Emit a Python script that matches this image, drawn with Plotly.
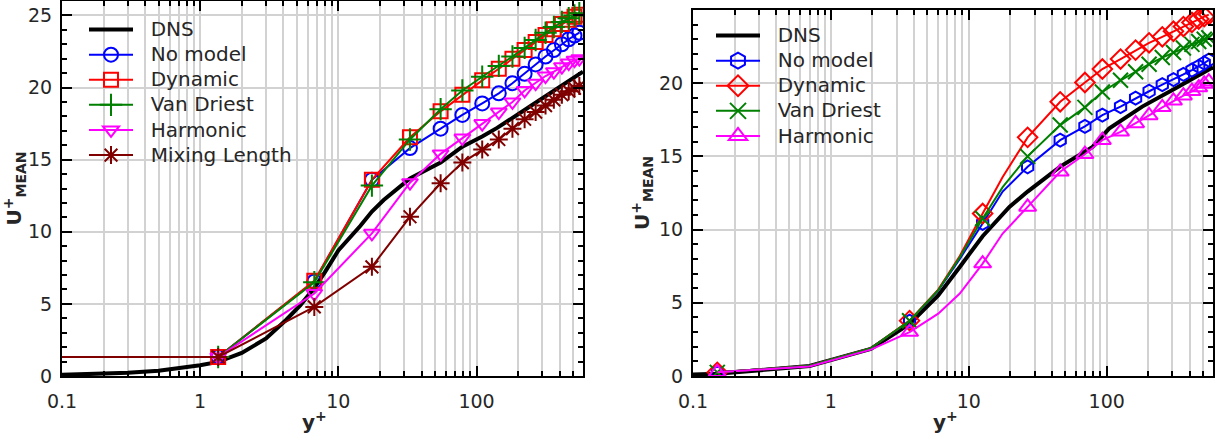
import plotly.graph_objects as go
import math

# ---------------- LEFT PANEL DATA ----------------
dns_left_y = [0.1, 0.2, 0.3, 0.5, 0.7, 1.0, 1.35, 2.0, 3.0, 4.2, 5.3, 6.7, 8.0, 10, 14.4, 17.5, 21.3, 33, 55, 79, 110, 141, 245, 427, 590]
dns_left_u = [0.08, 0.15, 0.22, 0.37, 0.52, 0.74, 0.98, 1.6, 2.6, 3.9, 4.9, 6.1, 7.2, 8.7, 10.4, 11.4, 12.2, 13.7, 14.8, 15.9, 16.6, 17.2, 18.7, 20.2, 21.1]

les_left_y = [1.35, 6.7, 17.5, 33, 55, 79, 110, 145, 182, 223, 268, 316, 363, 415, 465, 512, 555]
nomodel_left = [1.32, 6.55, 13.6, 15.8, 17.15, 18.1, 18.9, 19.6, 20.3, 20.95, 21.6, 22.15, 22.6, 23.0, 23.35, 23.6, 23.8]
dynamic_left = [1.32, 6.6, 13.6, 16.55, 18.35, 19.5, 20.5, 21.3, 22.0, 22.6, 23.15, 23.65, 24.05, 24.4, 24.7, 24.9, 25.05]
vandriest_left = [1.32, 6.5, 13.2, 16.4, 18.5, 19.8, 20.75, 21.5, 22.15, 22.75, 23.3, 23.8, 24.2, 24.55, 24.8, 25.0, 25.15]
harmonic_left = [1.32, 5.72, 9.89, 13.4, 15.4, 16.5, 17.5, 18.3, 19.0, 19.8, 20.3, 20.8, 21.1, 21.45, 21.7, 21.9, 22.0]
mixlen_left_y = [0.05, 1.35, 6.7, 17.5, 33, 55, 79, 110, 145, 182, 223, 268, 316, 363, 415, 465, 512, 555]
mixlen_left = [1.32, 1.32, 4.79, 7.57, 11.04, 13.36, 14.8, 15.7, 16.4, 17.15, 17.8, 18.3, 18.75, 19.15, 19.5, 19.75, 19.95, 20.1]

# ---------------- RIGHT PANEL DATA ----------------
dns_right_y = [0.1, 0.15, 0.7, 1.95, 3.72, 6.0, 8.6, 12.6, 19.7, 26.7, 46, 79, 104, 181, 316, 466, 590]
dns_right_u = [0.1, 0.15, 0.68, 1.85, 3.55, 5.5, 7.45, 9.55, 11.55, 12.6, 14.3, 15.65, 16.9, 18.4, 19.65, 20.55, 21.1]

les_right_y = [0.15, 0.7, 1.95, 3.72, 6.0, 8.6, 12.6, 17.6, 26.7, 46, 69.5, 93, 126, 162, 203, 253, 305, 360, 415, 465, 510, 550]
marker_shown = [1, 0, 0, 1, 0, 0, 1, 0, 1, 1, 1, 1, 1, 1, 1, 1, 1, 1, 1, 1, 1, 1]
nomodel_right = [0.25, 0.7, 1.9, 3.75, 5.85, 8.0, 10.42, 12.6, 14.29, 16.11, 17.05, 17.82, 18.4, 18.98, 19.45, 19.9, 20.25, 20.6, 20.9, 21.15, 21.38, 21.58]
dynamic_right = [0.25, 0.7, 1.9, 3.78, 5.9, 8.2, 11.1, 13.6, 16.3, 18.73, 20.05, 20.97, 21.65, 22.26, 22.76, 23.17, 23.55, 23.87, 24.15, 24.38, 24.55, 24.68]
vandriest_right = [0.25, 0.7, 1.9, 3.77, 5.86, 8.1, 10.76, 12.9, 15.0, 17.14, 18.35, 19.4, 20.2, 20.78, 21.3, 21.75, 22.1, 22.4, 22.65, 22.85, 23.0, 23.1]
harmonic_right = [0.25, 0.65, 1.8, 3.0, 4.26, 5.63, 7.68, 9.73, 11.55, 13.95, 15.15, 16.11, 16.68, 17.25, 17.8, 18.35, 18.8, 19.15, 19.45, 19.7, 19.95, 20.1]

x_tick_vals = [0.1, 1, 10, 100]
x_tick_text = ["0.1", "1", "10", "100"]

BLUE, RED, GREEN, MAG, DRED = "#0000ff", "#ff0000", "#008000", "#ff00ff", "#800000"
FONT = "DejaVu Sans"
TXT = "#262626"


def lname(s):
    return '<span style="font-size:20px">&nbsp;&nbsp;' + s + '</span>'


fig = go.Figure()

# ---- left traces ----
fig.add_trace(go.Scatter(x=dns_left_y, y=dns_left_u, mode="lines", name=lname("DNS"),
                         line=dict(color="black", width=4), xaxis="x", yaxis="y", legend="legend"))
left_series = [
    ("No model", nomodel_left, les_left_y, BLUE, "circle-open", 14),
    ("Dynamic", dynamic_left, les_left_y, RED, "square-open", 14),
    ("Van Driest", vandriest_left, les_left_y, GREEN, "cross-thin-open", 16),
    ("Harmonic", harmonic_left, les_left_y, MAG, "triangle-down-open", 14),
    ("Mixing Length", mixlen_left, mixlen_left_y, DRED, "asterisk-open", 15),
]
for name, vals, ys, col, sym, sz in left_series:
    fig.add_trace(go.Scatter(x=ys, y=vals, mode="lines+markers", name=lname(name),
                             line=dict(color=col, width=2),
                             marker=dict(symbol=sym, size=sz, color=col, line=dict(color=col, width=2)),
                             xaxis="x", yaxis="y", legend="legend"))

# ---- right traces ----
fig.add_trace(go.Scatter(x=dns_right_y, y=dns_right_u, mode="lines", name=lname("DNS"),
                         line=dict(color="black", width=4), xaxis="x2", yaxis="y2", legend="legend2"))
right_series = [
    ("No model", nomodel_right, BLUE, "hexagon-open", 13),
    ("Dynamic", dynamic_right, RED, "diamond-open", 15),
    ("Van Driest", vandriest_right, GREEN, "x-thin-open", 15),
    ("Harmonic", harmonic_right, MAG, "triangle-up-open", 15),
]
for name, vals, col, sym, sz in right_series:
    mx = [y for y, m in zip(les_right_y, marker_shown) if m]
    mv = [v for v, m in zip(vals, marker_shown) if m]
    fig.add_trace(go.Scatter(x=les_right_y, y=vals, mode="lines", showlegend=False,
                             line=dict(color=col, width=2), xaxis="x2", yaxis="y2"))
    fig.add_trace(go.Scatter(x=mx, y=mv, mode="markers", showlegend=False,
                             marker=dict(symbol=sym, size=sz, color=col, line=dict(color=col, width=2)),
                             xaxis="x2", yaxis="y2"))
    fig.add_trace(go.Scatter(x=[None], y=[None], mode="lines+markers", name=lname(name),
                             line=dict(color=col, width=2),
                             marker=dict(symbol=sym, size=16, color=col, line=dict(color=col, width=2)),
                             xaxis="x2", yaxis="y2", legend="legend2"))

W, H = 1230, 437
xr = [-1, math.log10(590)]


def xaxis_cfg(dom, anchor):
    return dict(domain=dom, anchor=anchor, type="log", range=xr, automargin=False,
                tickmode="array", tickvals=x_tick_vals, ticktext=x_tick_text,
                ticks="inside", ticklen=10, tickwidth=1.5, tickcolor="black",
                showline=True, linecolor="black", linewidth=2, mirror="ticks",
                showgrid=True, gridcolor="#d2d2d2", gridwidth=1.5,
                minor=dict(dtick="D1", ticks="inside", ticklen=5, tickwidth=1.5, tickcolor="black",
                           showgrid=True, gridcolor="#d2d2d2", gridwidth=1.5),
                tickfont=dict(family=FONT, size=19, color=TXT),
                ticklabelstandoff=7,
                zeroline=False)


def yaxis_cfg(dom, anchor, top):
    return dict(domain=dom, anchor=anchor, range=[0, top], dtick=5, tick0=0, automargin=False,
                ticks="inside", ticklen=10, tickwidth=1.5, tickcolor="black",
                showline=True, linecolor="black", linewidth=2, mirror="ticks",
                showgrid=True, gridcolor="#d2d2d2", gridwidth=1.5,
                minor=dict(dtick=1, ticks="inside", ticklen=5, tickwidth=1.5, tickcolor="black", showgrid=False),
                tickfont=dict(family=FONT, size=19, color=TXT),
                ticklabelstandoff=4,
                title=dict(text="<b>U<sup>+</sup><sub>MEAN</sub></b>", font=dict(family=FONT, size=20, color=TXT), standoff=4),
                zeroline=False)


xtitle_y = (H - 421) / H
fig.update_layout(
    width=W, height=H, margin=dict(l=0, r=0, t=0, b=0, autoexpand=False),
    paper_bgcolor="white", plot_bgcolor="white",
    font=dict(family=FONT, color=TXT),
    xaxis=xaxis_cfg([62 / W, 583 / W], "y"),
    yaxis=yaxis_cfg([(H - 376) / H, (H - 1) / H], "x", 26),
    xaxis2=xaxis_cfg([693 / W, 1213 / W], "y2"),
    yaxis2=yaxis_cfg([(H - 376) / H, (H - 10) / H], "x2", 25),
    legend=dict(x=84 / W, y=1 - 12 / H, xanchor="left", yanchor="top", bgcolor="rgba(0,0,0,0)",
                font=dict(family=FONT, size=17, color=TXT), tracegroupgap=0, itemwidth=44),
    legend2=dict(x=711 / W, y=1 - 18 / H, xanchor="left", yanchor="top", bgcolor="rgba(0,0,0,0)",
                 font=dict(family=FONT, size=17, color=TXT), tracegroupgap=0, itemwidth=44),
    showlegend=True,
    annotations=[
        dict(text="<b>y<sup>+</sup></b>", xref="x domain", yref="paper", x=0.485, y=xtitle_y,
             xanchor="center", yanchor="middle", showarrow=False, font=dict(family=FONT, size=20, color=TXT)),
        dict(text="<b>y<sup>+</sup></b>", xref="x2 domain", yref="paper", x=0.485, y=xtitle_y,
             xanchor="center", yanchor="middle", showarrow=False, font=dict(family=FONT, size=20, color=TXT)),
    ],
)

fig.write_html("out.html", config={"displayModeBar": False},
               post_script="document.body.style.margin='0px';document.body.style.overflow='hidden';")
